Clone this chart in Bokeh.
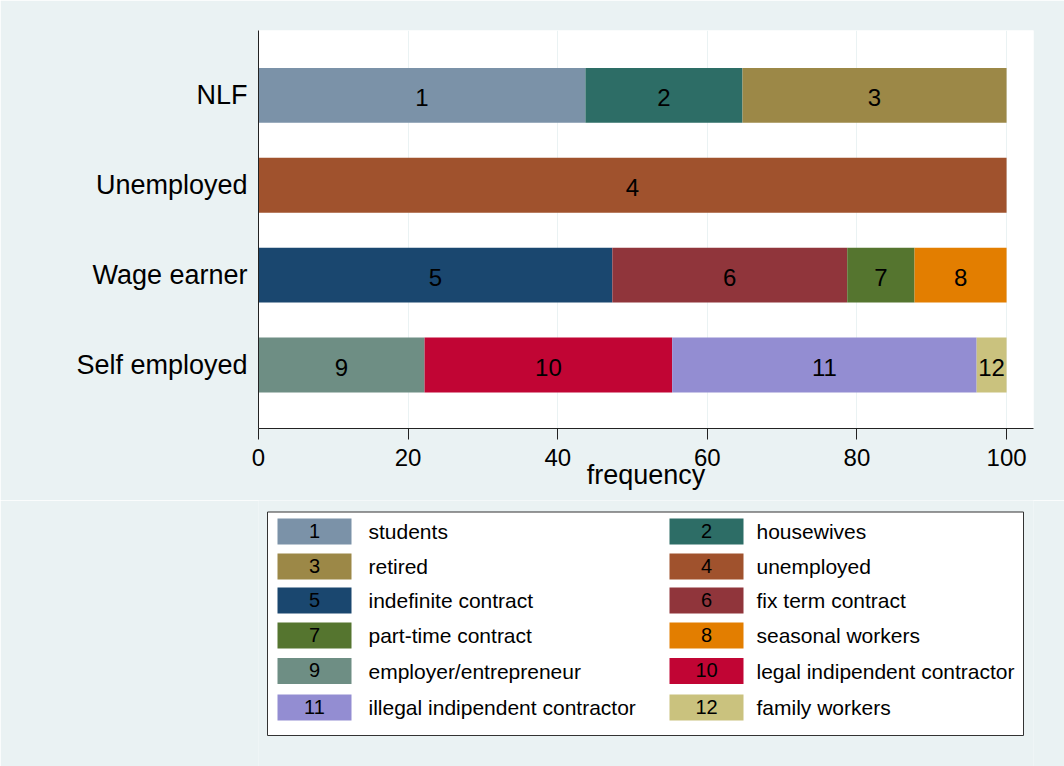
from bokeh.plotting import figure
from bokeh.models import Range1d, FixedTicker, ColumnDataSource
from bokeh.layouts import column
from bokeh.core.properties import value
from bokeh.embed import file_html
from bokeh.resources import INLINE

# ---------------- data ----------------
groups = ["Self employed", "Wage earner", "Unemployed", "NLF"]
seg_ids = ["1", "2", "3", "4", "5", "6", "7", "8", "9", "10", "11", "12"]
seg_names = ["students", "housewives", "retired", "unemployed",
             "indefinite contract", "fix term contract", "part-time contract",
             "seasonal workers", "employer/entrepreneur",
             "legal indipendent contractor", "illegal indipendent contractor",
             "family workers"]
seg_group = ["NLF", "NLF", "NLF", "Unemployed",
             "Wage earner", "Wage earner", "Wage earner", "Wage earner",
             "Self employed", "Self employed", "Self employed", "Self employed"]
seg_values = [43.7, 21.0, 35.3, 100.0, 47.3, 31.4, 9.0, 12.3, 22.2, 33.1, 40.7, 4.0]
seg_colors = ["#7B92A8", "#2D6D66", "#9C8847", "#A0522D", "#1A476F", "#90353B",
              "#55752F", "#E37E00", "#6E8E84", "#C10534", "#938DD2", "#CAC27E"]
x_ticks = [0, 20, 40, 60, 80, 100]

BG = "#EAF2F3"
FONT = "Liberation Sans"

# cumulative positions
lefts, rights, ys = [], [], []
acc = {}
for g, v in zip(seg_group, seg_values):
    s = acc.get(g, 0.0)
    lefts.append(s)
    rights.append(s + v)
    acc[g] = s + v
    ys.append(groups.index(g))
mids = [(a + b) / 2 for a, b in zip(lefts, rights)]

src = ColumnDataSource(dict(y=ys, left=lefts, right=rights, mid=mids,
                            color=seg_colors, lab=seg_ids))

# ---------------- main chart ----------------
p = figure(width=1064, height=500, output_backend="svg", toolbar_location=None,
           x_range=Range1d(0, 103.6), y_range=Range1d(-0.706, 3.722),
           min_border_left=258, min_border_right=31, min_border_top=30,
           min_border_bottom=72)
p.border_fill_color = BG
p.background_fill_color = "white"
p.outline_line_color = None

p.hbar(y="y", left="left", right="right", height=0.611, fill_color="color",
       line_color=None, source=src)
p.text(x="mid", y="y", text="lab", source=src, text_align="center",
       text_baseline="middle", text_font=value(FONT), text_font_size="24px",
       text_color="black", y_offset=2)

p.ygrid.grid_line_color = None
p.xgrid.grid_line_color = BG
p.xgrid.grid_line_width = 1
p.xgrid.ticker = FixedTicker(ticks=x_ticks)

p.xaxis.ticker = FixedTicker(ticks=x_ticks)
p.xaxis.axis_label = "frequency"
p.xaxis.axis_label_text_font = FONT
p.xaxis.axis_label_text_font_size = "27px"
p.xaxis.axis_label_text_font_style = "normal"
p.xaxis.axis_label_text_color = "black"
p.xaxis.axis_label_standoff = -9
p.xaxis.major_label_text_font = FONT
p.xaxis.major_label_text_font_size = "24px"
p.xaxis.major_label_text_color = "black"
p.xaxis.major_label_standoff = 9
p.xaxis.major_tick_out = 11
p.xaxis.major_tick_in = 0
p.xaxis.minor_tick_line_color = None
p.xaxis.axis_line_color = "#222222"
p.xaxis.major_tick_line_color = "#222222"

p.yaxis.ticker = FixedTicker(ticks=list(range(len(groups))))
p.yaxis.major_label_overrides = {i: g for i, g in enumerate(groups)}
p.yaxis.major_label_text_font = FONT
p.yaxis.major_label_text_font_size = "27px"
p.yaxis.major_label_text_color = "black"
p.yaxis.major_label_standoff = 11
p.yaxis.major_tick_out = 0
p.yaxis.major_tick_in = 0
p.yaxis.minor_tick_line_color = None
p.yaxis.axis_line_color = "#222222"

# ---------------- legend panel ----------------
# frame aligned with the main chart frame (258..1033 px); x range in pixels
lg = figure(width=1064, height=266, output_backend="svg", toolbar_location=None,
            x_range=Range1d(258, 1033), y_range=Range1d(766, 500),
            min_border_left=258, min_border_right=31, min_border_top=0,
            min_border_bottom=0)
lg.border_fill_color = BG
lg.background_fill_color = BG
lg.outline_line_color = None
lg.axis.visible = False
lg.grid.visible = False

# frame of legend
lg.rect(x=[645], y=[623.25], width=[756], height=[223.5], fill_color="white",
        line_color="#333333", line_width=1)

row_y = [531, 566, 600, 635, 670.5, 707]
sw_x = [314, 706]
tx_x = [368, 756]
lx, ly, tx = [], [], []
for i in range(len(seg_ids)):
    c, r = i % 2, i // 2
    lx.append(sw_x[c])
    ly.append(row_y[r])
    tx.append(tx_x[c])
lsrc = ColumnDataSource(dict(x=lx, y=ly, tx=tx, color=seg_colors, lab=seg_ids,
                             name=seg_names))
lg.rect(x="x", y="y", width=74, height=26, fill_color="color", line_color=None,
        source=lsrc)
lg.text(x="x", y="y", text="lab", source=lsrc, text_align="center",
        text_baseline="middle", text_font=value(FONT), text_font_size="20px",
        text_color="black", y_offset=-1)
lg.text(x="tx", y="y", text="name", source=lsrc, text_align="left",
        text_baseline="middle", text_font=value(FONT), text_font_size="21px",
        text_color="black")

layout = column(p, lg, spacing=0)
html = file_html(layout, INLINE)
html = html.replace("<body>", '<body style="margin:0;background:%s">' % BG, 1)
open("out.html", "w").write(html)
